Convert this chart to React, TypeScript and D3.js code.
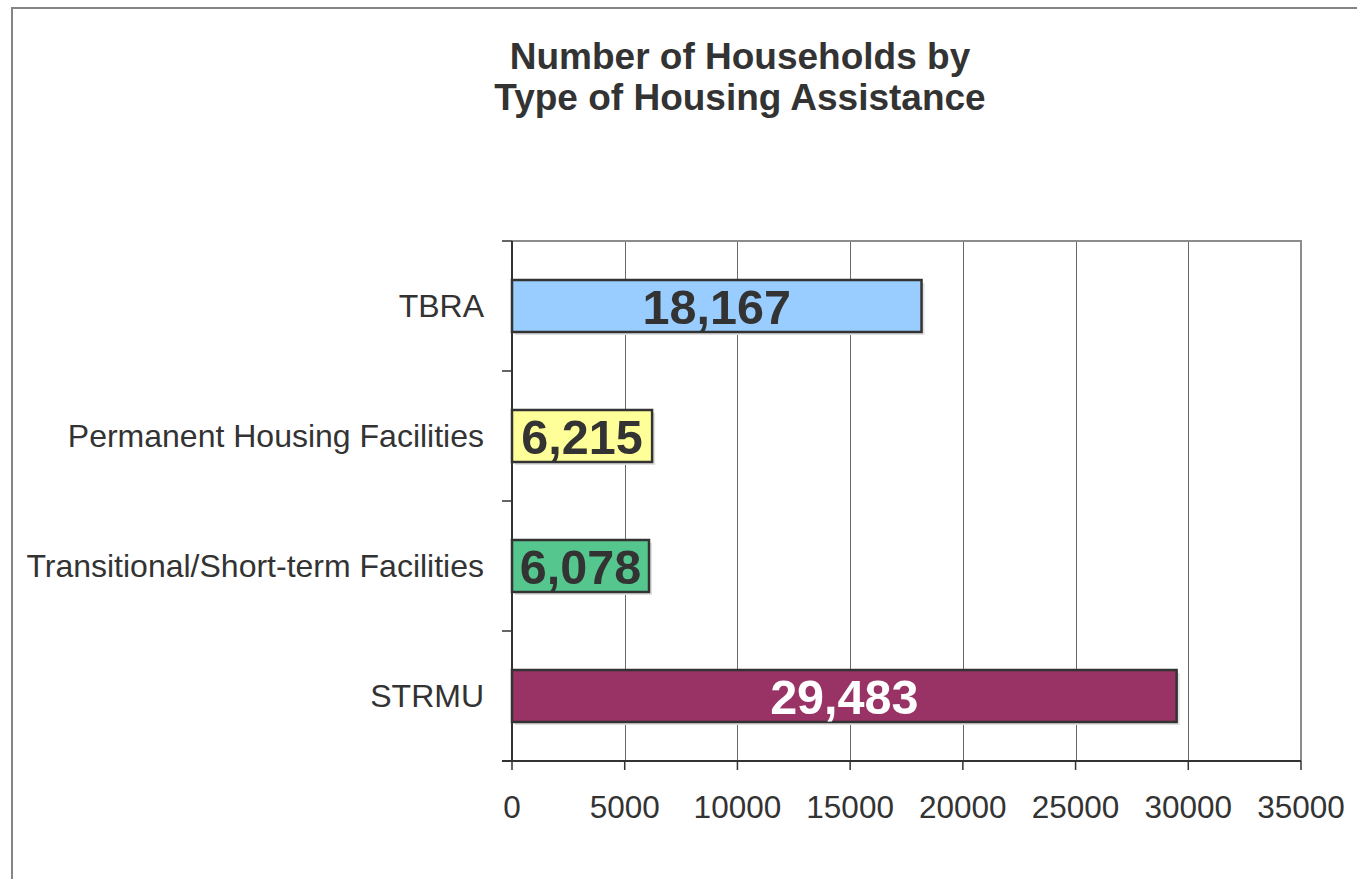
import React from "react";
import * as d3 from "d3";

const categories = ["TBRA", "Permanent Housing Facilities", "Transitional/Short-term Facilities", "STRMU"];
const values = [18167, 6215, 6078, 29483];
const barColors = ["#99ccff", "#ffff99", "#55c68d", "#993366"];
const labelColors = ["#333333", "#333333", "#333333", "#ffffff"];
const xTicks = [0, 5000, 10000, 15000, 20000, 25000, 30000, 35000];
const titleLines = ["Number of Households by", "Type of Housing Assistance"];

const W = 1357;
const H = 879;
const plot = { left: 512, right: 1301, top: 241, bottom: 761 };
const FONT = "'Liberation Sans', Arial, Helvetica, sans-serif";

export default function App() {
  const x = d3.scaleLinear().domain([0, 35000]).range([plot.left, plot.right]);
  const y = d3.scaleBand<string>().domain(categories).range([plot.top, plot.bottom]).paddingInner(0.6).paddingOuter(0.3);
  const band = (plot.bottom - plot.top) / categories.length;
  const fmt = d3.format(",");
  return (
    <svg width={W} height={H} style={{ position: "absolute", left: 0, top: 0, background: "#fff" }} fontFamily={FONT}>
      <rect x={0} y={0} width={W} height={H} fill="#fff" />
      {/* outer frame */}
      <path d={`M12,${H + 5} L12,8 L${W + 5},8`} fill="none" stroke="#858585" strokeWidth={2} />
      {/* title */}
      {titleLines.map((t, i) => (
        <text key={i} x={740} y={69 + i * 41} textAnchor="middle" fontSize={37} fontWeight="bold" fill="#333">
          {t}
        </text>
      ))}
      {/* gridlines */}
      {xTicks.slice(1, -1).map((t) => (
        <line key={t} x1={Math.round(x(t)) + 0.5} x2={Math.round(x(t)) + 0.5} y1={plot.top} y2={plot.bottom} stroke="#6a6a6a" strokeWidth={1} />
      ))}
      {/* top & right border of plot */}
      <path d={`M${plot.left},${plot.top} L${plot.right},${plot.top} L${plot.right},${plot.bottom}`} fill="none" stroke="#8c8c8c" strokeWidth={2} />
      {/* bars */}
      {categories.map((c, i) => {
        const by = y(c)!;
        const bh = y.bandwidth();
        const bw = x(values[i]) - x(0);
        return (
          <g key={c}>
            <rect x={x(0) + 3} y={by + 3} width={bw} height={bh} fill="#e0e0e0" />
            <rect x={x(0)} y={by} width={bw} height={bh} fill={barColors[i]} stroke="#333" strokeWidth={2.5} />
            <text x={x(0) + bw / 2} y={by + bh / 2 + 18} textAnchor="middle" fontSize={48.5} fontWeight="bold" fill={labelColors[i]}>
              {fmt(values[i])}
            </text>
            <text x={484} y={by + bh / 2 + 11} textAnchor="end" fontSize={32} fill="#333">
              {c}
            </text>
          </g>
        );
      })}
      {/* left axis */}
      <line x1={plot.left} x2={plot.left} y1={plot.top} y2={plot.bottom} stroke="#333" strokeWidth={2} />
      {d3.range(categories.length + 1).map((i) => (
        <line key={i} x1={plot.left - 10} x2={plot.left} y1={plot.top + i * band} y2={plot.top + i * band} stroke="#333" strokeWidth={1.5} />
      ))}
      {/* bottom axis */}
      <line x1={plot.left - 10} x2={plot.right} y1={plot.bottom} y2={plot.bottom} stroke="#333" strokeWidth={2} />
      {xTicks.map((t) => (
        <g key={t}>
          <line x1={x(t)} x2={x(t)} y1={plot.bottom} y2={plot.bottom + 9} stroke="#333" strokeWidth={1.5} />
          <text x={x(t)} y={818} textAnchor="middle" fontSize={31.5} fill="#333">
            {t}
          </text>
        </g>
      ))}
    </svg>
  );
}
